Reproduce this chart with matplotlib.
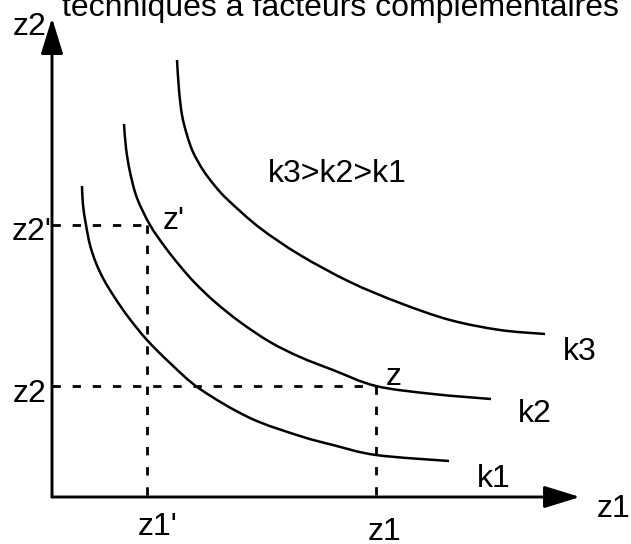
"""
Isoquant sketch: three production isoquants k1 < k2 < k3 with the two
factor combinations z and z' marked by dashed guide lines.
"""

from __future__ import annotations

import matplotlib

matplotlib.use("Agg")
import matplotlib.pyplot as plt
from matplotlib.patches import PathPatch
from matplotlib.path import Path

plt.rcParams["font.family"] = ["Liberation Sans", "DejaVu Sans"]
plt.rcParams["lines.scale_dashes"] = False

# Diagram units: origin at the corner of the two axes, 1 unit ~ 1 pixel.
TITLE = "techniques à facteurs complémentaires"

# Isoquant points (z1, z2).
k1_z1 = [30, 31, 34, 38, 44, 52, 63, 77, 95, 118, 148, 198, 248, 281, 324, 397]
k1_z2 = [311, 292, 272, 252, 234, 217, 199, 179, 157, 134, 108, 79, 61, 52, 42, 36]

k2_z1 = [72, 74, 78, 85, 98, 113, 128, 143, 163, 188, 218, 248, 281, 324, 381, 439]
k2_z2 = [373, 349, 325, 299, 272, 250, 231, 214, 195, 175, 155, 140, 127, 111, 103, 98]

k3_z1 = [125, 127, 130, 135, 141, 151, 163, 176, 208, 248, 298, 348, 398, 448, 493]
k3_z2 = [437, 407, 382, 362, 345, 327, 311, 297, 269, 242, 215, 194, 177, 167, 163]

# Combinations z and z' (both on k2).
z_point = (324, 111)
z_prime_point = (95, 272)

# Axis ends.
z1_max = 528
z2_max = 479

# Labels: text, anchor (z1, z2).
curve_labels = [("k3", (511, 137)), ("k2", (466, 75)), ("k1", (425, 10))]
point_labels = [("z'", (111, 268)), ("z", (334, 112))]
tick_labels = [
    ("z2'", (-40, 257)),
    ("z2", (-39, 95)),
    ("z1'", (86, -38)),
    ("z1", (316, -43)),
]
axis_labels = [("z2", (-39, 462)), ("z1", (545, -20))]
order_label = ("k3>k2>k1", (216, 315))

FONT_SIZE = 23


def smooth_path(xs, ys):
    # Cubic Bezier segments through the read points (Catmull-Rom tangents).
    pts = list(zip(xs, ys))
    verts = [pts[0]]
    codes = [Path.MOVETO]
    n = len(pts)
    for i in range(n - 1):
        p0 = pts[max(i - 1, 0)]
        p1 = pts[i]
        p2 = pts[i + 1]
        p3 = pts[min(i + 2, n - 1)]
        c1 = (p1[0] + (p2[0] - p0[0]) / 6.0, p1[1] + (p2[1] - p0[1]) / 6.0)
        c2 = (p2[0] - (p3[0] - p1[0]) / 6.0, p2[1] - (p3[1] - p1[1]) / 6.0)
        verts += [c1, c2, p2]
        codes += [Path.CURVE4] * 3
    return Path(verts, codes)


def draw_axis(ax, end):
    ax.annotate(
        "",
        xy=end,
        xytext=(0, 0),
        arrowprops=dict(
            arrowstyle="-|>,head_length=2.2,head_width=0.68",
            mutation_scale=10,
            lw=2.1,
            color="black",
            shrinkA=0,
            shrinkB=0,
        ),
    )


def draw_guides(ax, point):
    zx, zy = point
    style = dict(color="black", lw=2.0, dashes=(6.0, 8.5), solid_capstyle="butt")
    ax.plot([0, zx], [zy, zy], **style)
    ax.plot([zx, zx], [zy, 0], **style)


def main() -> None:
    fig = plt.figure(figsize=(6.31, 5.44), dpi=100)
    ax = fig.add_axes([0, 0, 1, 1])
    ax.set_xlim(-52, 579)
    ax.set_ylim(-47, 497)
    ax.axis("off")

    draw_guides(ax, z_prime_point)
    draw_guides(ax, z_point)

    for xs, ys in ((k1_z1, k1_z2), (k2_z1, k2_z2), (k3_z1, k3_z2)):
        ax.add_patch(
            PathPatch(smooth_path(xs, ys), facecolor="none", edgecolor="black", lw=1.8, capstyle="butt")
        )

    draw_axis(ax, (0, z2_max))
    draw_axis(ax, (z1_max, 0))

    for text, (x, y) in curve_labels + point_labels + tick_labels + axis_labels + [order_label]:
        ax.text(x, y, text, fontsize=FONT_SIZE, ha="left", va="baseline", color="black")

    ax.text(10, 481, TITLE, fontsize=FONT_SIZE, ha="left", va="baseline", color="black", clip_on=False)

    fig.savefig("out.png", dpi=100)
    plt.close(fig)


if __name__ == "__main__":
    main()
